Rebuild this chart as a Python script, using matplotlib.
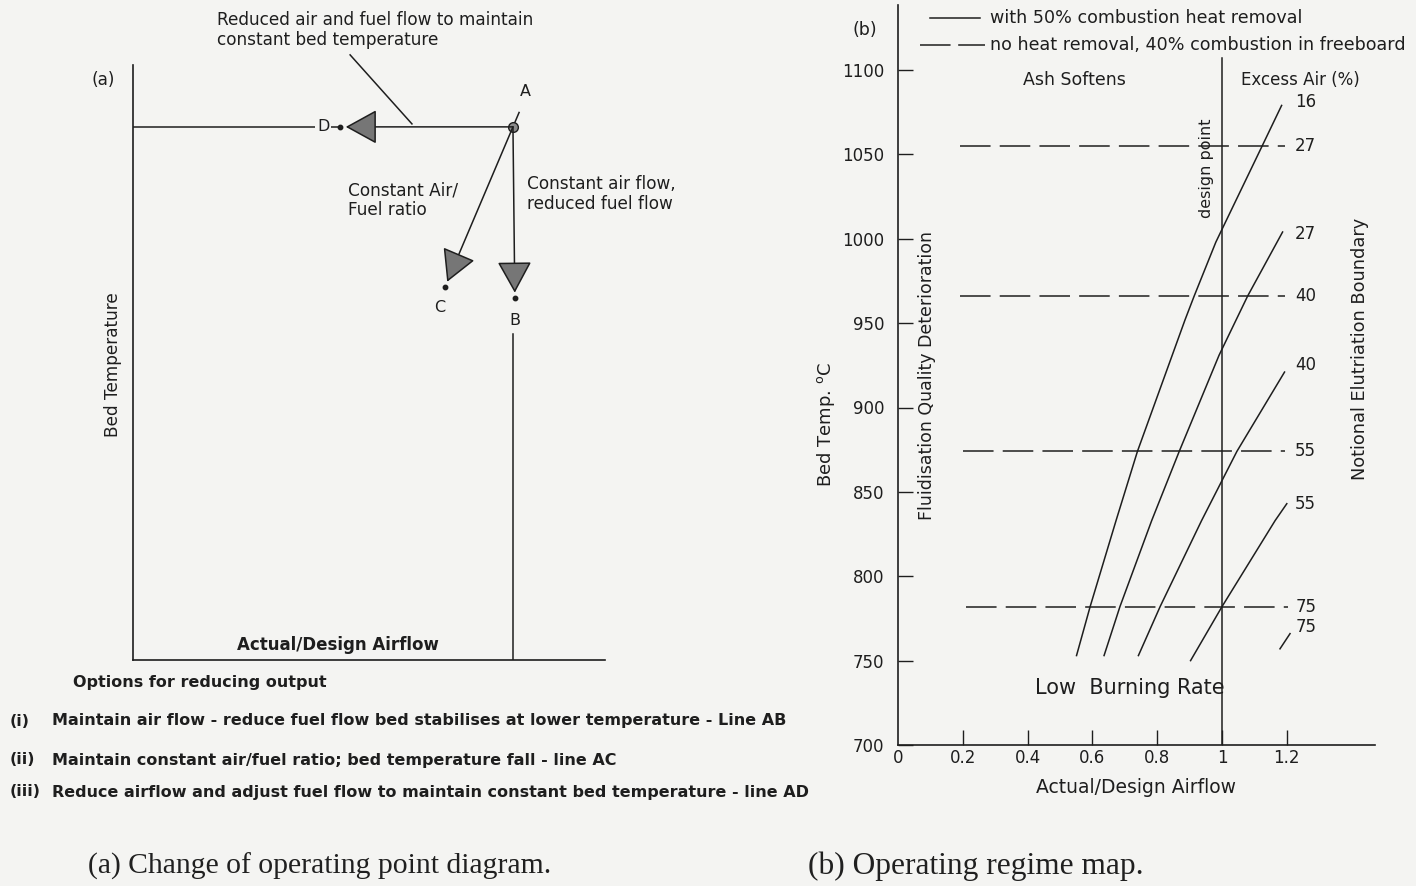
import matplotlib
matplotlib.use("Agg")
import matplotlib.pyplot as plt

W, H = 1416, 886
BG = "#f4f4f2"
INK = "#1e1e1e"

# ---------------- data: panel (a) operating points (axes fraction units) -----
point_A = (0.805, 0.896)
point_B = (0.809, 0.608)
point_C = (0.661, 0.627)
point_D = (0.439, 0.896)

options = [
    ("(i)", "Maintain air flow - reduce fuel flow bed stabilises at lower temperature - Line AB"),
    ("(ii)", "Maintain constant air/fuel ratio; bed temperature fall - line AC"),
    ("(iii)", "Reduce airflow and adjust fuel flow to maintain constant bed temperature - line AD"),
]

# ---------------- data: panel (b) operating regime map ------------------------
x_ticks = [0, 0.2, 0.4, 0.6, 0.8, 1.0, 1.2]
x_tick_labels = ["0", "0.2", "0.4", "0.6", "0.8", "1", "1.2"]
y_ticks = [700, 750, 800, 850, 900, 950, 1000, 1050, 1100]

# no heat removal, 40% combustion in freeboard (constant bed temperature)
dashed_excess_air = ["27", "40", "55", "75"]
dashed_temp = [1055, 966, 874, 782]
dashed_x_start = [0.19, 0.19, 0.20, 0.21]
dashed_x_end = [1.195, 1.195, 1.195, 1.204]

# with 50% combustion heat removal
solid_excess_air = ["16", "27", "40", "55", "75"]
solid_x = [
    [0.551, 0.593, 0.673, 0.739, 0.886, 0.914, 0.981, 1.124, 1.184],
    [0.636, 0.685, 0.783, 0.868, 0.991, 1.079, 1.187],
    [0.742, 0.809, 0.937, 1.046, 1.193],
    [0.903, 1.000, 1.164, 1.200],
    [1.179, 1.210],
]
solid_temp = [
    [753, 782, 833, 874, 952, 966, 998, 1055, 1079],
    [753, 782, 833, 874, 931, 966, 1004],
    [753, 782, 833, 874, 921],
    [750, 782, 833, 843],
    [757, 766],
]
solid_label_temp = [1081, 1003, 925, 843, 770]

design_airflow = 1.0


def fx(px):
    return px / W


def fy(py):
    return 1 - py / H


fig = plt.figure(figsize=(W / 100, H / 100), dpi=100, facecolor=BG)

sans = "DejaVu Sans"

# ============================ panel (a) ======================================
axa = fig.add_axes([fx(133), fy(660), (605 - 133) / W, (660 - 65) / H])
axa.set_facecolor("none")
axa.set_xlim(0, 1)
axa.set_ylim(0, 1)
for s in ("top", "right"):
    axa.spines[s].set_visible(False)
for s in ("left", "bottom"):
    axa.spines[s].set_color(INK)
    axa.spines[s].set_linewidth(1.2)
axa.set_xticks([])
axa.set_yticks([])

lw = 1.1
# constant bed temperature line from the axis to A
axa.plot([0, point_D[0]], [point_A[1], point_D[1]], color=INK, lw=lw)
# vertical line below B down to the airflow axis
axa.plot([point_A[0], point_A[0]], [0, point_B[1] - 0.06], color=INK, lw=lw)
# short extension of line AC above A
dxC, dyC = point_C[0] - point_A[0], point_C[1] - point_A[1]
axa.plot([point_A[0], point_A[0] - 0.09 * dxC], [point_A[1], point_A[1] - 0.09 * dyC],
         color=INK, lw=lw)

arrow_style = "-|>,head_length=1.0,head_width=0.55"
for tgt in (point_B, point_C, point_D):
    axa.annotate("", xy=tgt, xytext=point_A,
                 arrowprops=dict(arrowstyle=arrow_style, mutation_scale=20,
                                 fc="#767676", ec=INK, lw=lw,
                                 shrinkA=0, shrinkB=4))

# operating points
axa.plot(*point_A, marker="o", ms=7, mfc="#8a8a8a", mec=INK, mew=1.0)
for p in (point_B, point_C, point_D):
    axa.plot(*p, marker="o", ms=3.2, color=INK)

lab_kw = dict(fontsize=11.5, color=INK, family=sans, ha="center", va="center")
axa.text(point_A[0] + 0.026, point_A[1] + 0.059, "A", **lab_kw)
axa.text(point_B[0], point_B[1] - 0.037, "B", **lab_kw)
axa.text(point_C[0] - 0.011, point_C[1] - 0.035, "C", **lab_kw)
axa.text(point_D[0] - 0.036, point_D[1], "D",
         bbox=dict(boxstyle="square,pad=0.1", fc=BG, ec="none"), **lab_kw)

# leader line for the AD annotation
axa.plot([0.460, 0.591], [1.017, 0.901], color=INK, lw=lw, clip_on=False)

txt_kw = dict(fontsize=12.2, color=INK, family=sans)
fig.text(fx(217), fy(30), "Reduced air and fuel flow to maintain\nconstant bed temperature",
         ha="left", va="center", linespacing=1.1, **txt_kw)
fig.text(fx(348), fy(200), "Constant Air/\nFuel ratio", ha="left", va="center",
         linespacing=1.1, **txt_kw)
fig.text(fx(527), fy(194), "Constant air flow,\nreduced fuel flow", ha="left", va="center",
         linespacing=1.1, **txt_kw)
fig.text(fx(103), fy(80), "(a)", ha="center", va="center", **txt_kw)
fig.text(fx(113), fy(365), "Bed Temperature", ha="center", va="center", rotation=90,
         **txt_kw)
fig.text(fx(338), fy(645), "Actual/Design Airflow", ha="center", va="center",
         fontsize=12, color=INK, family=sans, fontweight="semibold")

opt_kw = dict(fontsize=11.5, color=INK, family=sans, fontweight="semibold",
              ha="left", va="center")
fig.text(fx(73), fy(683), "Options for reducing output", **opt_kw)
for (num, desc), py in zip(options, [721, 760, 792]):
    fig.text(fx(10), fy(py), num, **opt_kw)
    fig.text(fx(52), fy(py), desc, **opt_kw)

# ============================ panel (b) ======================================
px_per_x = 324.0
px_per_T = 1.6875
x_max = (1375 - 898) / px_per_x
T_top = 700 + (745 - 5) / px_per_T
axb = fig.add_axes([fx(898), fy(745), (1375 - 898) / W, (745 - 5) / H])
axb.set_facecolor("none")
axb.set_xlim(0, x_max)
axb.set_ylim(700, T_top)
for s in ("top", "right"):
    axb.spines[s].set_visible(False)
for s in ("left", "bottom"):
    axb.spines[s].set_color(INK)
    axb.spines[s].set_linewidth(1.2)

fs = 12
axb.set_xticks(x_ticks)
axb.set_xticklabels(x_tick_labels)
axb.set_yticks(y_ticks)
axb.tick_params(axis="both", direction="in", length=11, width=1.0, colors=INK,
                labelsize=fs)
axb.tick_params(axis="x", pad=3)
axb.tick_params(axis="y", pad=10)
axb.xaxis.get_major_ticks()[0].tick1line.set_visible(False)
for lbl in axb.get_xticklabels() + axb.get_yticklabels():
    lbl.set_family(sans)

axb.set_xlabel("Actual/Design Airflow", fontsize=13.5, family=sans, color=INK, labelpad=8)
axb.set_ylabel("Bed Temp. $^{\\mathrm{o}}$C", fontsize=13, family=sans, color=INK)
axb.yaxis.set_label_coords(-0.128, (890 - 700) / (T_top - 700))

dash = (0, (20, 6))
for T, x0, x1, lab in zip(dashed_temp, dashed_x_start, dashed_x_end, dashed_excess_air):
    axb.plot([x0, x1], [T, T], color=INK, lw=1.1, linestyle=dash)
    axb.text(1.226, T, lab, fontsize=fs, family=sans, color=INK, ha="left", va="center")

for xs, Ts, lab, tl in zip(solid_x, solid_temp, solid_excess_air, solid_label_temp):
    axb.plot(xs, Ts, color=INK, lw=1.1)
    axb.text(1.226, tl, lab, fontsize=fs, family=sans, color=INK, ha="left", va="center")

# design point
axb.plot([design_airflow, design_airflow], [700, 1107], color=INK, lw=1.1)
axb.text(0.952, 1042, "design point", rotation=90, fontsize=11.5, family=sans, color=INK,
         ha="center", va="center")

axb.text(0.546, 1094, "Ash Softens", fontsize=12.5, family=sans, color=INK,
         ha="center", va="center")
axb.text(1.241, 1094, "Excess Air (%)", fontsize=12, family=sans, color=INK,
         ha="center", va="center")
axb.text(0.09, 919, "Fluidisation Quality Deterioration", rotation=90, fontsize=12.5,
         family=sans, color=INK, ha="center", va="center")
axb.text(1.426, 935, "Notional Elutriation Boundary", rotation=90, fontsize=12.8,
         family=sans, color=INK, ha="center", va="center")
axb.text(0.716, 734, "Low  Burning Rate", fontsize=15, family=sans, color=INK,
         ha="center", va="center")

# legend drawn in data space at the top of the map
axb.plot([0.099, 0.253], [1130.8, 1130.8], color=INK, lw=1.1)
axb.plot([0.068, 0.269], [1114.8, 1114.8], color=INK, lw=1.1, linestyle=(0, (20, 5)))
axb.text(0.284, 1130.8, "with 50% combustion heat removal", fontsize=12.6, family=sans,
         color=INK, ha="left", va="center")
axb.text(0.284, 1114.8, "no heat removal, 40% combustion in freeboard", fontsize=12.6,
         family=sans, color=INK, ha="left", va="center")
fig.text(fx(865), fy(30), "(b)", fontsize=12.5, family=sans, color=INK, ha="center",
         va="center")

# ============================ captions =======================================
cap_kw = dict(family="Liberation Serif", color="#202020", ha="left", va="center")
fig.text(fx(88), fy(866), "(a) Change of operating point diagram.", fontsize=21.3, **cap_kw)
fig.text(fx(808), fy(866), "(b) Operating regime map.", fontsize=22.6, **cap_kw)

fig.savefig("out.png", dpi=100, facecolor=BG)
